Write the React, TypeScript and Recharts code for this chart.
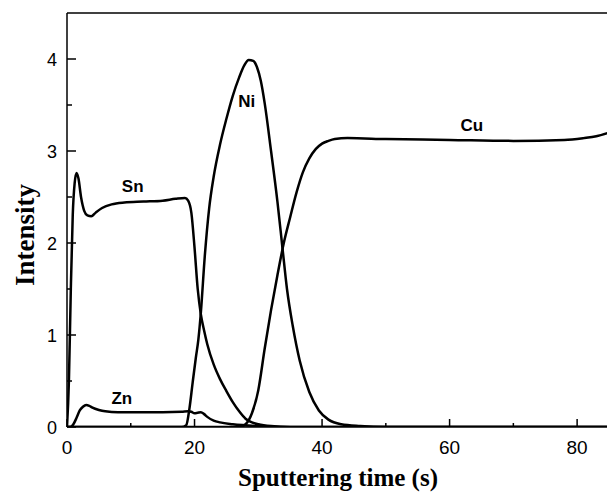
import { LineChart, Line, XAxis, YAxis, ReferenceLine, ReferenceDot } from "recharts";

// sputtering time (s) / intensity
const snTime = [0, 0.3, 0.6, 0.9, 1.2, 1.5, 1.8, 2.2, 2.7, 3.2, 3.8, 4.5, 5.5, 7, 9, 12, 15, 17, 18.5, 19, 19.5, 20, 20.5, 21, 21.5, 22, 23, 24, 25, 26, 27, 28, 29, 30, 32, 35, 40, 85];
const snValue = [0, 0.5, 1.5, 2.3, 2.65, 2.76, 2.7, 2.5, 2.35, 2.3, 2.29, 2.33, 2.38, 2.42, 2.44, 2.45, 2.46, 2.48, 2.49, 2.46, 2.33, 1.95, 1.5, 1.22, 1.05, 0.9, 0.68, 0.52, 0.39, 0.27, 0.17, 0.09, 0.05, 0.03, 0.01, 0, 0, 0];

const znTime = [0, 0.5, 1, 1.5, 2, 2.5, 3, 3.5, 4, 5, 6, 8, 10, 15, 18, 19, 19.5, 20, 20.5, 21, 21.5, 22, 23, 24, 26, 30, 35, 85];
const znValue = [0, 0, 0.03, 0.1, 0.18, 0.22, 0.24, 0.23, 0.21, 0.185, 0.17, 0.16, 0.16, 0.16, 0.165, 0.17, 0.165, 0.15, 0.155, 0.16, 0.14, 0.11, 0.07, 0.05, 0.03, 0.01, 0, 0];

const niTime = [0, 18, 18.7, 19.2, 19.7, 20.2, 20.6, 21, 21.6, 22.3, 23, 24, 25, 26, 27, 27.8, 28.5, 29.2, 29.8, 30.4, 31, 32, 33, 33.8, 34.5, 35.4, 36.5, 38, 39.5, 41, 43, 46, 50, 85];
const niValue = [0, 0, 0.02, 0.2, 0.48, 0.75, 0.95, 1.25, 1.85, 2.38, 2.72, 3.07, 3.35, 3.6, 3.8, 3.93, 3.99, 3.98, 3.91, 3.76, 3.52, 3.0, 2.45, 1.94, 1.5, 1.1, 0.72, 0.38, 0.18, 0.08, 0.03, 0.01, 0, 0];

const cuTime = [0, 27, 28, 29, 30, 31, 32, 33, 34, 35, 36, 37, 38, 39, 40, 41, 42, 44, 50, 60, 70, 78, 81, 83, 85];
const cuValue = [0, 0, 0.03, 0.15, 0.4, 0.85, 1.27, 1.65, 2.0, 2.28, 2.55, 2.77, 2.92, 3.02, 3.08, 3.11, 3.13, 3.14, 3.13, 3.12, 3.11, 3.12, 3.14, 3.16, 3.2];

const xTicks = [0, 10, 20, 30, 40, 50, 60, 70, 80];
const yTicks = [0, 0.5, 1, 1.5, 2, 2.5, 3, 3.5, 4];

const labelNames = ["Sn", "Zn", "Ni", "Cu"];
const labelTime = [10.3, 8.6, 28.2, 63.5];
const labelValue = [2.62, 0.315, 3.54, 3.28];

const zip = (t: number[], v: number[]) => t.map((x, i) => ({ t: x, v: v[i] }));

const series = [
  { name: "Sn", data: zip(snTime, snValue) },
  { name: "Zn", data: zip(znTime, znValue) },
  { name: "Ni", data: zip(niTime, niValue) },
  { name: "Cu", data: zip(cuTime, cuValue) },
];

const sans = "'Liberation Sans', Arial, sans-serif";
const serif = "'Liberation Serif', 'Times New Roman', serif";

function XTick(props: any) {
  const { x, y, payload } = props;
  const major = payload.value % 20 === 0;
  return (
    <g>
      <line x1={x} y1={y} x2={x} y2={y - (major ? 8 : 4)} stroke="#000" strokeWidth={1.5} />
      {major && (
        <text x={x} y={y + 27} textAnchor="middle" fontSize={19} fontFamily={sans} fill="#000">
          {payload.value}
        </text>
      )}
    </g>
  );
}

function YTick(props: any) {
  const { x, y, payload } = props;
  const major = Number.isInteger(payload.value);
  return (
    <g>
      <line x1={x} y1={y} x2={x + (major ? 9 : 5)} y2={y} stroke="#000" strokeWidth={1.5} />
      {major && (
        <text x={x - 10} y={y + 6.5} textAnchor="end" fontSize={18} fontFamily={sans} fill="#000">
          {payload.value}
        </text>
      )}
    </g>
  );
}

export default function App() {
  return (
    <div style={{ position: "absolute", left: 0, top: 0, width: 607, height: 500, overflow: "hidden", background: "#fff" }}>
      <LineChart width={620} height={500} margin={{ top: 13, right: 11, left: 0, bottom: 0 }}>
        <XAxis
          type="number"
          dataKey="t"
          domain={[0, 85]}
          ticks={xTicks}
          interval={0}
          tickSize={0}
          tickMargin={0}
          tickLine={false}
          tick={<XTick />}
          height={73}
          axisLine={{ stroke: "#000", strokeWidth: 1.5 }}
          allowDataOverflow
          label={{
            value: "Sputtering time (s)",
            position: "insideBottom",
            offset: 14,
            style: { fontFamily: serif, fontWeight: "bold", fontSize: 25, fill: "#000" },
          }}
        />
        <YAxis
          type="number"
          domain={[0, 4.5]}
          ticks={yTicks}
          interval={0}
          tickSize={0}
          tickMargin={0}
          tickLine={false}
          tick={<YTick />}
          width={67}
          axisLine={{ stroke: "#000", strokeWidth: 1.5 }}
          allowDataOverflow
          label={{
            content: () => (
              <text
                x={25}
                y={235}
                transform="rotate(-90 25 235)"
                textAnchor="middle"
                dominantBaseline="central"
                fontFamily={serif}
                fontWeight="bold"
                fontSize={27}
                fill="#000"
              >
                Intensity
              </text>
            ),
          }}
        />
        <ReferenceLine y={4.5} stroke="#000" strokeWidth={1.5} />
        {series.map((s) => (
          <Line
            key={s.name}
            data={s.data}
            dataKey="v"
            type="monotone"
            stroke="#000"
            strokeWidth={2.5}
            dot={false}
            activeDot={false}
            isAnimationActive={false}
          />
        ))}
        {labelNames.map((n, i) => (
          <ReferenceDot
            key={n}
            x={labelTime[i]}
            y={labelValue[i]}
            r={0}
            fill="none"
            stroke="none"
            label={{ value: n, position: "center", fontSize: 17, fontWeight: "bold", fontFamily: sans, fill: "#000" }}
          />
        ))}
      </LineChart>
    </div>
  );
}
